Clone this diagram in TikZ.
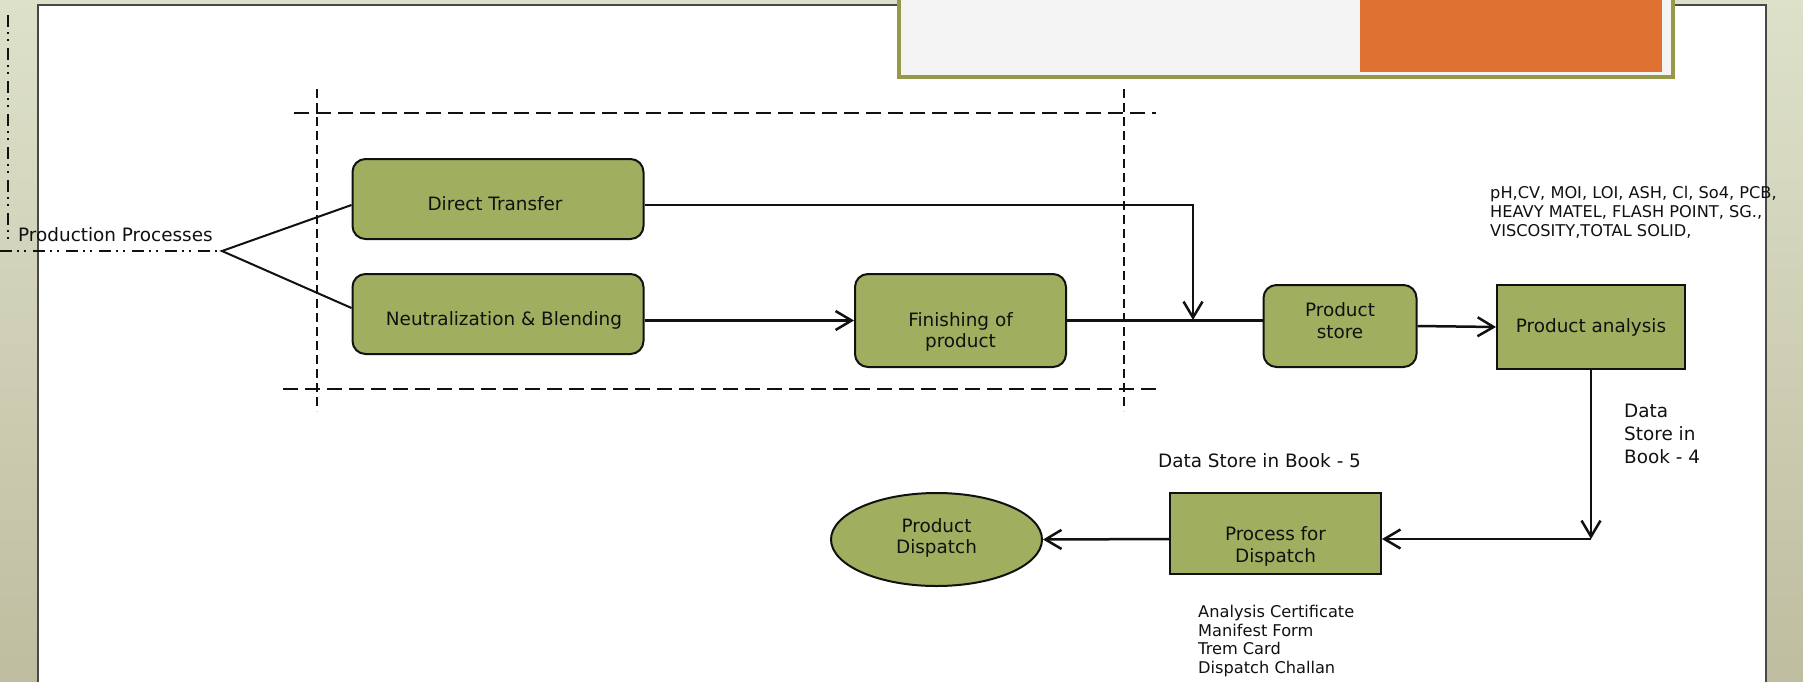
\documentclass[tikz,border=0pt]{standalone}
\usepackage{fontspec}
\setmainfont{DejaVu Sans}
\usetikzlibrary{arrows.meta,shapes.geometric}
\definecolor{boxgreen}{RGB}{159,175,95}
\definecolor{bgtop}{RGB}{222,225,202}
\definecolor{bgbottom}{RGB}{190,189,160}
\definecolor{paneledge}{RGB}{72,72,72}
\definecolor{titlefill}{RGB}{244,244,244}
\definecolor{titleedge}{RGB}{150,154,72}
\definecolor{orangebar}{RGB}{223,114,51}
\definecolor{ink}{RGB}{17,17,17}
\tikzset{
  big/.style={font=\fontsize{18.4}{21.5}\selectfont, text=ink},
  small/.style={font=\fontsize{16.2}{18.8}\selectfont, text=ink},
  rbox/.style={draw=ink, fill=boxgreen, line width=2pt, rounded corners=13pt, inner sep=0pt},
  sbox/.style={draw=ink, fill=boxgreen, line width=2pt, inner sep=0pt},
  obox/.style={ellipse, draw=ink, fill=boxgreen, line width=2pt, inner sep=0pt},
  boxtext/.style={big, align=center},
  flow/.style={draw=ink, line width=2.5pt, -{Straight Barb[length=16pt,width=19pt]}},
  plainline/.style={draw=ink, line width=2.5pt},
  hdash/.style={draw=ink, line width=2pt, dash pattern=on 15pt off 7pt},
  vdash/.style={draw=ink, line width=2pt, dash pattern=on 9pt off 5pt},
  dashdotdot/.style={draw=ink, line width=2pt, dash pattern=on 12pt off 5pt on 2pt off 5pt on 2pt off 7pt},
}
\begin{document}
\begin{tikzpicture}[x=1pt,y=-1pt]
\useasboundingbox (0,0) rectangle (1803,681);
\clip (0,0) rectangle (1803,681);
% background and panel
\shade[top color=bgtop, bottom color=bgbottom] (0,0) rectangle (1803,681);
\draw[paneledge, line width=2pt, fill=white] (38,5) rectangle (1766,700);
% title box
\draw[titleedge, line width=3.5pt, fill=titlefill] (899,-10) rectangle (1673,77);
\fill[orangebar] (1360,-10) rectangle (1662,72);
% dashed frame
\draw[vdash] (317,89) -- (317,411);
\draw[vdash] (1124,89) -- (1124,411);
\draw[hdash] (294,113) -- (1156,113);
\draw[hdash] (283,389) -- (1159,389);
% nodes
\node[rbox, minimum width=291pt, minimum height=80pt,
  label={[name=dtl, boxtext, xshift=-3pt, yshift=-5pt]center:Direct Transfer}] (dt) at (498,199) {};
\node[rbox, minimum width=291pt, minimum height=80pt,
  label={[name=nbl, boxtext, xshift=6pt, yshift=-6pt]center:Neutralization \& Blending}] (nb) at (498,314) {};
\node[rbox, minimum width=211pt, minimum height=93pt,
  label={[name=finl, boxtext, yshift=-11.5pt]center:{Finishing of\\product}}] (fin) at (960.5,320.5) {};
\node[rbox, minimum width=153pt, minimum height=82pt,
  label={[name=psl, boxtext, yshift=5.5pt]center:{Product\\store}}] (ps) at (1340,326) {};
\node[sbox, minimum width=188pt, minimum height=84pt,
  label={[name=pal, boxtext]center:Product analysis}] (pa) at (1591,327) {};
\node[sbox, minimum width=211pt, minimum height=81pt,
  label={[name=pfdl, boxtext, yshift=-13pt]center:{Process for\\Dispatch}}] (pfd) at (1275.5,533.5) {};
\node[obox, minimum width=211pt, minimum height=93pt,
  label={[name=pdl, boxtext, yshift=1.5pt]center:{Product\\Dispatch}}] (pd) at (936.5,539.5) {};
% free texts
\node[big, anchor=base west, inner sep=0pt] (pp) at (18,241) {Production Processes};
\node[small, anchor=west, align=left, inner sep=0pt] (params) at (1490,212)
  {pH,CV, MOI, LOI, ASH, Cl, So4, PCB,\\HEAVY MATEL, FLASH POINT, SG.,\\VISCOSITY,TOTAL SOLID,};
\node[font=\fontsize{18.4}{23}\selectfont, text=ink, anchor=west, align=left, inner sep=0pt] (book4) at (1624,434)
  {Data\\Store in\\Book - 4};
\node[big, anchor=west, inner sep=0pt] (book5) at (1158,461) {Data Store in Book - 5};
\node[small, anchor=west, align=left, inner sep=0pt] (docs) at (1198,641)
  {Analysis Certificate\\Manifest Form\\Trem Card\\Dispatch Challan};
% coordinates
\coordinate (vtop) at (8,15);
\coordinate (vbot) at (8,240);
\coordinate (hl) at (0,251);
\coordinate (fork) at (222,251);
\coordinate (j) at (1193,320);
\coordinate (k) at (1591,539);
% connectors
\draw[dashdotdot] (vtop) -- (vbot);
\draw[dashdotdot] (hl) -- (fork);
\draw[draw=ink, line width=2pt] ([yshift=-6pt]dt.west) -- (fork) -- ([yshift=6pt]nb.west);
\draw[flow] ([yshift=-6pt]dt.east) -| (j);
\draw[flow] (nb.east |- fin.west) -- (fin.west);
\draw[plainline] (fin.east) -- (fin.east -| ps.west);
\draw[flow] (ps.east) -- (pa.west);
\draw[flow] (pa.south) -- (k);
\draw[flow] (k) -- (k -| pfd.east);
\draw[flow] (k -| pfd.west) -- (pd.east);
\end{tikzpicture}
\end{document}
